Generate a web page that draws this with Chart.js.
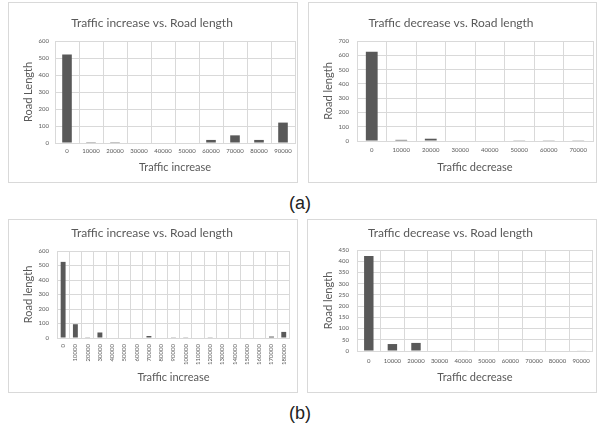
<!DOCTYPE html>
<html>
<head>
<meta charset="utf-8">
<script src="https://cdn.jsdelivr.net/npm/chart.js@4.4.1/dist/chart.umd.min.js"></script>
<style>
  html, body { margin: 0; padding: 0; background: #fff; }
  body { width: 597px; height: 425px; position: relative; overflow: hidden; }
  .panel { position: absolute; border: 1px solid #d9d9d9; box-sizing: border-box; background: #fff; }
  .panel canvas { display: block; }
  .tag { position: absolute; font-family: "Liberation Sans", Arial, sans-serif; font-size: 18px; line-height: 20px; color: #222; width: 40px; text-align: center; }
</style>
</head>
<body>
<div class="panel" style="left:8px;top:2px;width:290px;height:181px"><canvas id="incA"></canvas></div>
<div class="panel" style="left:308px;top:2px;width:289px;height:181px"><canvas id="decA"></canvas></div>
<div class="tag" style="left:280px;top:193px">(a)</div>
<div class="panel" style="left:8px;top:219px;width:290px;height:174px"><canvas id="incB"></canvas></div>
<div class="panel" style="left:307px;top:219px;width:290px;height:174px"><canvas id="decB"></canvas></div>
<div class="tag" style="left:280px;top:403px">(b)</div>
<script>
// (a) traffic increase / decrease
const incLabelsA = ['0', '10000', '20000', '30000', '40000', '50000', '60000', '70000', '80000', '90000'];
const incValuesA = [520, 5, 5, 0, 0, 0, 18, 45, 18, 120];
const decLabelsA = ['0', '10000', '20000', '30000', '40000', '50000', '60000', '70000'];
const decValuesA = [625, 8, 16, 0, 0, 2, 2, 2];

// (b) traffic increase / decrease
const incLabelsB = ['0', '10000', '20000', '30000', '40000', '50000', '60000', '70000', '80000', '90000',
  '100000', '110000', '120000', '130000', '140000', '150000', '160000', '170000', '180000'];
const incValuesB = [525, 95, 5, 38, 0, 0, 0, 14, 0, 5, 5, 0, 5, 0, 0, 0, 0, 10, 42];
const decLabelsB = ['0', '10000', '20000', '30000', '40000', '50000', '60000', '70000', '80000', '90000'];
const decValuesB = [423, 31, 36, 0, 2, 0, 0, 0, 0, 2];

// y axis ranges
const yMaxInc = 600, yStepInc = 100;
const yMaxDecA = 700, yStepDecA = 100;
const yMaxDecB = 450, yStepDecB = 50;

const FONT = 'Lato, "Open Sans", sans-serif';
const TEXT = '#595959';
const GRID = '#d9d9d9';
const BAR = '#595959';

function makeChart(id, labels, values, g) {
    const ctx = document.getElementById(id).getContext('2d');
    return new Chart(ctx, {
        type: 'bar',
        data: {
            labels: labels,
            datasets: [{
                data: values,
                backgroundColor: BAR,
                barPercentage: 0.4,
                categoryPercentage: 1
            }]
        },
        options: {
            responsive: true,
            maintainAspectRatio: false,
            animation: false,
            layout: { padding: { left: 0, right: g.padR, top: 0, bottom: g.padB } },
            plugins: {
                legend: { display: false },
                tooltip: { enabled: false },
                title: {
                    display: true,
                    text: g.title,
                    color: TEXT,
                    font: { family: FONT, size: 12, weight: 'normal' },
                    padding: { top: g.titleTop, bottom: g.titleBottom }
                }
            },
            scales: {
                x: {
                    grid: { color: GRID, drawTicks: false, offset: true },
                    border: { color: GRID },
                    ticks: {
                        color: TEXT,
                        font: { family: FONT, size: 6 },
                        padding: g.xPad,
                        autoSkip: false,
                        minRotation: g.rot,
                        maxRotation: g.rot
                    },
                    title: {
                        display: true,
                        text: g.xTitle,
                        color: TEXT,
                        font: { family: FONT, size: 11 },
                        padding: 0
                    },
                    afterFit: function (s) { s.height = g.xH; }
                },
                y: {
                    min: 0,
                    max: g.yMax,
                    grid: { color: GRID, drawTicks: false },
                    border: { display: false },
                    ticks: {
                        stepSize: g.yStep,
                        color: TEXT,
                        font: { family: FONT, size: 6 },
                        padding: g.yPad
                    },
                    title: {
                        display: true,
                        text: g.yTitle,
                        color: TEXT,
                        font: { family: FONT, size: 11 },
                        padding: { top: g.yTitleOff, bottom: 0 }
                    },
                    afterFit: function (s) { s.width = g.yW; }
                }
            }
        }
    });
}

makeChart('incA', incLabelsA, incValuesA, {
    title: 'Traffic increase vs. Road length', xTitle: 'Traffic increase', yTitle: 'Road Length',
    yMax: yMaxInc, yStep: yStepInc, rot: 0,
    padR: 2, padB: 8, titleTop: 12.8, titleBottom: 10.8,
    xH: 31, xPad: 4, yW: 46, yPad: 6, yTitleOff: 12.4
});

makeChart('decA', decLabelsA, decValuesA, {
    title: 'Traffic decrease vs. Road length', xTitle: 'Traffic decrease', yTitle: 'Road length',
    yMax: yMaxDecA, yStep: yStepDecA, rot: 0,
    padR: 3, padB: 8, titleTop: 12.8, titleBottom: 10.8,
    xH: 33, xPad: 5, yW: 48, yPad: 8, yTitleOff: 12.4
});

makeChart('incB', incLabelsB, incValuesB, {
    title: 'Traffic increase vs. Road length', xTitle: 'Traffic increase', yTitle: 'Road length',
    yMax: yMaxInc, yStep: yStepInc, rot: 90,
    padR: 2, padB: 8, titleTop: 5.8, titleBottom: 10.8,
    xH: 46, xPad: 6, yW: 48, yPad: 8, yTitleOff: 12.4
});

makeChart('decB', decLabelsB, decValuesB, {
    title: 'Traffic decrease vs. Road length', xTitle: 'Traffic decrease', yTitle: 'Road length',
    yMax: yMaxDecB, yStep: yStepDecB, rot: 0,
    padR: 3, padB: 8, titleTop: 5.8, titleBottom: 9.8,
    xH: 33, xPad: 6, yW: 49, yPad: 8, yTitleOff: 13.4
});
</script>
</body>
</html>
